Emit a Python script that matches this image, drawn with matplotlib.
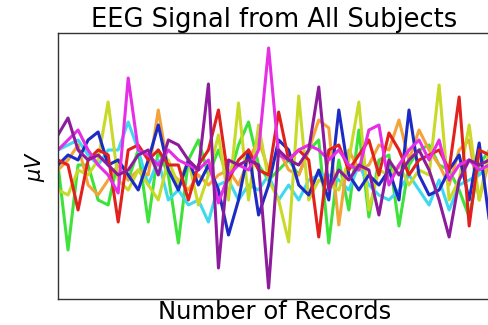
import numpy as np
import matplotlib
matplotlib.use("Agg")
import matplotlib.pyplot as plt

# sample index along the record (every 10 records)
records = np.arange(0, 440, 10)

# signals in microvolts
magenta = [15, 25, 35, 15, 0, -10, -28, 87, 15, 10, 0, 15, 5, 0, -5, 5, -38, -10, 0, -5,
           15, 117, 10, 5, 15, 20, 15, 5, 15, 0, -5, 35, 40, -20, 0, 15, 25, 5, 25, -15,
           0, 5, -5, 0]
purple = [30, 47, 15, 5, 10, 0, -10, -5, 10, 15, -10, 25, 20, 5, -5, 81, -103, 5, 0, 5,
          0, -123, 15, 5, 0, 15, 78, -25, -5, -15, 0, -5, -50, 5, -10, 5, 15, -5, -35, -72,
          -15, 5, 0, 5]
yellow = [-25, -30, -5, -10, 5, 63, -15, -25, -5, -20, -35, 5, -20, 5, -40, -10, 30, -35, 62, -35,
          40, -15, -35, -77, 69, -35, -15, -20, -25, 5, 63, -45, -5, -10, 0, -20, -5, -10, 80, -35,
          -15, 40, -35, 15]
red = [5, 0, -45, 5, 15, 10, -57, 15, 20, 5, 15, 0, 0, -35, 0, 15, 55, -15, 5, 15,
       -5, -10, 53, 5, 15, 5, -72, 15, 20, -5, 10, 25, -10, 32, 15, -10, 5, 10, 15, -5,
       68, -61, 15, 10]
blue = [0, 10, 5, 25, 33, 0, 5, -10, -25, 5, 40, -5, -25, 5, -20, 0, -25, -70, -35, 15,
        -50, -20, 25, 15, -20, -30, -5, -35, 55, -10, -25, -10, -20, -5, -35, 55, -10, -30, -25, -5,
        10, -35, 22, -55]
green = [0, -85, 0, 0, -35, -40, 5, -15, 15, -57, 15, -10, -78, 5, 25, -10, 15, -15, 20, 43,
         0, -15, -5, 5, -10, 15, 25, -78, 5, -45, 35, -52, 5, 10, -61, 0, 15, 20, 0, -5,
         -25, -52, 0, 15]
cyan = [15, 20, 25, 10, 0, 15, 15, 43, 15, -20, 5, -35, -25, -40, -35, -57, -20, -15, -35, -20,
        -25, -10, -35, -20, -35, -15, -10, -10, -15, -25, 0, -20, -30, -35, -25, -10, -25, -40, -15, -45,
        -20, -15, -10, 0]
orange = [-5, 5, 20, -20, -30, -15, 0, -15, -5, -10, 55, -5, -15, -25, -10, -20, -10, -5, -20, 5,
          25, -5, 15, -5, -10, 15, 45, 37, -60, 15, -5, 0, 20, 15, 45, 5, 35, 15, 0, -20,
          15, 25, -35, 5]

series = [
    (green, "#3ee23a"),
    (cyan, "#3fd8ee"),
    (orange, "#f3a33a"),
    (yellow, "#c9d927"),
    (blue, "#1c2bc3"),
    (red, "#e2201c"),
    (magenta, "#e52ee5"),
    (purple, "#8d1c9d"),
]

fig = plt.figure(figsize=(4.89, 3.25), dpi=100)
ax = fig.add_axes([0.1186, 0.08, 0.886, 0.8185])

for vals, col in series:
    ax.plot(records, vals, color=col, lw=2.2, solid_joinstyle="round")

ax.set_xlim(0, 432)
ax.set_ylim(-134, 132)
ax.set_xticks([])
ax.set_yticks([])
for s in ax.spines.values():
    s.set_color("#333333")
    s.set_linewidth(1.0)

ax.set_title("EEG Signal from All Subjects", fontsize=18.5, pad=3)
ax.set_xlabel("Number of Records", fontsize=17.5, labelpad=1)
ax.set_ylabel(r"$\mu V$", fontsize=15, labelpad=8)

fig.savefig("out.png", dpi=100, facecolor="white")
